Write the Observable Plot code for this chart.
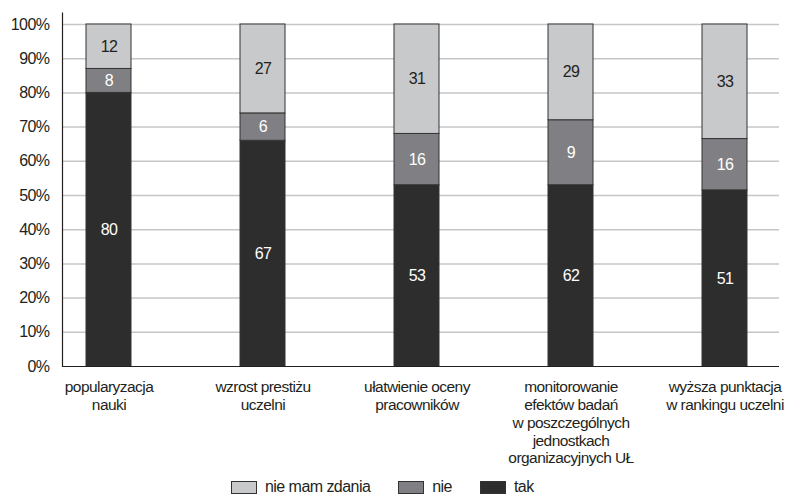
<!DOCTYPE html>
<html>
<head>
<meta charset="utf-8">
<script src="https://cdn.jsdelivr.net/npm/d3@7"></script>
<script src="https://cdn.jsdelivr.net/npm/@observablehq/plot@0.6"></script>
<style>
  html, body { margin: 0; padding: 0; background: #fff; }
  body { width: 790px; height: 496px; overflow: hidden; font-family: "Liberation Sans", Arial, sans-serif; letter-spacing: -0.55px; color: #231f20; }
  #legend { display: flex; align-items: center; height: 20px; margin-top: 5px; padding-left: 231px; font-size: 16px; }
  .item { display: flex; align-items: center; margin-right: 28px; }
  .sw { width: 24px; height: 11px; border: 1px solid #333; margin-right: 8px; }
</style>
</head>
<body>
<div id="chart"></div>
<div id="legend"></div>
<script>
// categories (x tick labels, multi-line)
const categories = [
  "popularyzacja\nnauki",
  "wzrost prestiżu\nuczelni",
  "ułatwienie oceny\npracowników",
  "monitorowanie\nefektów badań\nw poszczególnych\njednostkach\norganizacyjnych UŁ",
  "wyższa punktacja\nw rankingu uczelni"
];
// series (bottom to top)
const series = ["tak", "nie", "nie mam zdania"];
const seriesColors = ["#2e2d2e", "#808084", "#c8c9cb"];

// segment heights as drawn (percent)
const takHeights = [80, 66, 53, 53, 51.5];
const nieHeights = [7, 8, 15, 19, 15];
const nmzHeights = [13, 26, 32, 28, 33.5];

// printed value labels
const takLabels = [80, 67, 53, 62, 51];
const nieLabels = [8, 6, 16, 9, 16];
const nmzLabels = [12, 27, 31, 29, 33];

const yTicks = [0, 10, 20, 30, 40, 50, 60, 70, 80, 90, 100];

const heights = [takHeights, nieHeights, nmzHeights];
const labels = [takLabels, nieLabels, nmzLabels];
const data = [];
categories.forEach((c, i) => {
  series.forEach((s, j) => {
    data.push({cat: c, series: s, value: heights[j][i], label: labels[j][i]});
  });
});

const stackOpts = {x: "cat", y: "value", z: "series", order: series};
const FONT = '"Liberation Sans", Arial, sans-serif';

const chart = Plot.plot({
  width: 790,
  height: 472,
  marginLeft: 62,
  marginRight: 11,
  marginTop: 12.7,
  marginBottom: 106,
  style: {fontFamily: FONT, color: "#231f20", background: "#fff", letterSpacing: "-0.55px"},
  x: {domain: categories, range: [30.2, 803.2], paddingInner: 0.706, paddingOuter: 0.353, label: null},
  y: {domain: [0, 103.3], label: null},
  color: {domain: series, range: seriesColors},
  marks: [
    Plot.gridY({ticks: yTicks.filter(d => d > 0), stroke: "#c6c6c6", strokeOpacity: 1, strokeWidth: 1.5}),
    Plot.barY(data, Plot.stackY({...stackOpts, fill: "series", stroke: "#333", strokeWidth: 1})),
    Plot.text(data, Plot.stackY({...stackOpts, text: d => d.series !== "nie mam zdania" ? String(d.label) : null, fill: "white", fontSize: 16})),
    Plot.text(data, Plot.stackY({...stackOpts, text: d => d.series === "nie mam zdania" ? String(d.label) : null, fill: "#231f20", fontSize: 16})),
    Plot.ruleY([0], {stroke: "#231f20", strokeWidth: 1.2}),
    Plot.frame({anchor: "left", stroke: "#231f20", strokeWidth: 1.2}),
    Plot.axisY({ticks: yTicks, tickFormat: d => d + "%", tickSize: 0, tickPadding: 13, fontSize: 16, label: null}),
    Plot.axisX({tickSize: 0, tickPadding: 13, fontSize: 15.5, lineHeight: 1.15, label: null})
  ]
});
document.getElementById("chart").appendChild(chart);

// legend (top series first)
const legend = document.getElementById("legend");
[2, 1, 0].forEach(j => {
  const item = document.createElement("div");
  item.className = "item";
  const sw = document.createElement("div");
  sw.className = "sw";
  sw.style.background = seriesColors[j];
  const t = document.createElement("span");
  t.textContent = series[j];
  item.appendChild(sw);
  item.appendChild(t);
  legend.appendChild(item);
});
</script>
</body>
</html>
